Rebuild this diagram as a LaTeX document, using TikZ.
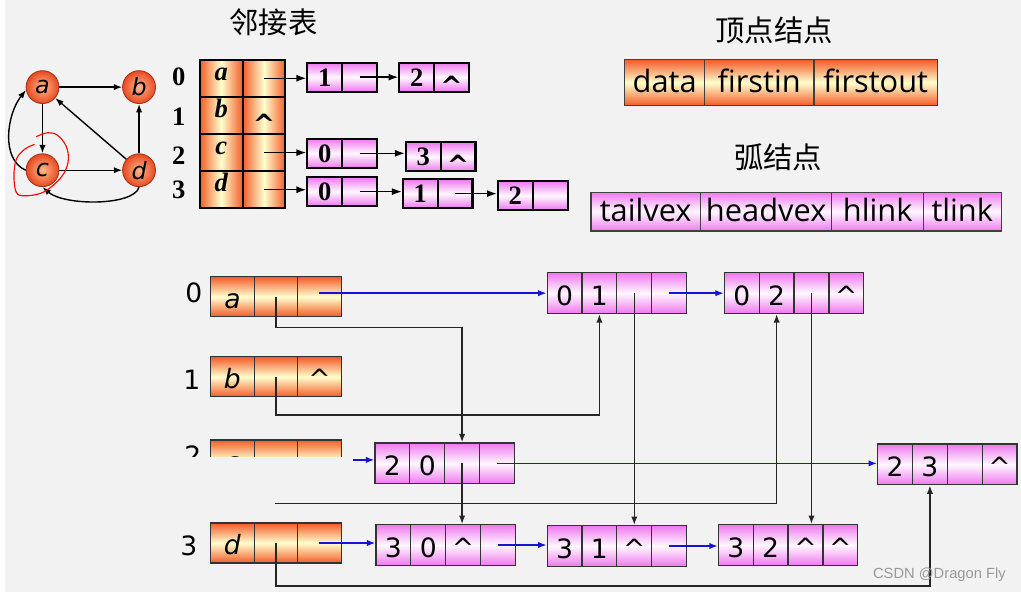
\documentclass[tikz,border=0pt]{standalone}
\usepackage{fontspec}
\setmainfont{Liberation Serif}
\newfontfamily\dejavu{DejaVu Sans}
\newfontfamily\opensans{Open Sans}
\newfontfamily\cjk{Noto Sans CJK SC}
\newfontfamily\wmfont{Liberation Sans}
\usetikzlibrary{arrows.meta}
\definecolor{bg}{RGB}{242,242,242}
\definecolor{vred}{RGB}{243,92,42}
\definecolor{vpale}{RGB}{255,255,205}
\definecolor{emag}{RGB}{238,120,238}
\definecolor{epale}{RGB}{255,248,255}
\definecolor{ballin}{RGB}{255,185,140}
\definecolor{ballout}{RGB}{232,72,32}
\definecolor{link}{RGB}{20,20,210}
\newcommand{\nilA}{{\dejavu\fontsize{19pt}{19pt}\selectfont\raisebox{-6.5pt}{\textasciicircum}}}
\tikzset{
  ball/.style={circle,draw=ballout!70!black,line width=0.6pt,inner sep=0pt,minimum size=0.825cm,
    inner color=ballin,outer color=ballout,font=\dejavu\itshape\fontsize{17pt}{17pt}\selectfont},
  tcell/.style={draw,line width=1.5pt,inner sep=0pt,minimum width=1.075cm,minimum height=0.9325cm,
    left color=vred,right color=vred,middle color=vpale,
    font=\bfseries\itshape\fontsize{19pt}{19pt}\selectfont,text height=3pt,text depth=0pt},
  acell/.style={draw,line width=1.5pt,inner sep=0pt,minimum width=0.875cm,minimum height=0.725cm,
    top color=emag,bottom color=emag,middle color=epale,
    font=\bfseries\fontsize{19pt}{19pt}\selectfont,text height=13pt,text depth=0pt},
  idx/.style={inner sep=0pt,font=\bfseries\fontsize{19pt}{19pt}\selectfont},
  oidx/.style={inner sep=0pt,font=\dejavu\fontsize{19pt}{19pt}\selectfont},
  title/.style={inner sep=0pt,font=\cjk\fontsize{21pt}{21pt}\selectfont},
  lvert/.style={draw=black!75,line width=0.8pt,inner sep=0pt,minimum height=1.15cm,
    top color=vred,bottom color=vred,middle color=vpale,
    font=\opensans\fontsize{22pt}{22pt}\selectfont,text height=14pt,text depth=0pt},
  larc/.style={draw=black!75,line width=0.8pt,inner sep=0pt,minimum height=0.975cm,
    top color=emag,bottom color=emag,middle color=epale,
    font=\opensans\fontsize{22pt}{22pt}\selectfont,text height=14pt,text depth=0pt},
  vcell/.style={draw=black!80,line width=0.9pt,inner sep=0pt,minimum width=1.092cm,minimum height=1cm,
    top color=vred,bottom color=vred,middle color=vpale,
    font=\dejavu\fontsize{19pt}{19pt}\selectfont,text height=17pt,text depth=0pt},
  ecell/.style={draw=black!80,line width=0.9pt,inner sep=0pt,minimum width=0.875cm,minimum height=1.025cm,
    top color=emag,bottom color=emag,middle color=epale,
    font=\dejavu\fontsize{19pt}{19pt}\selectfont,text height=18pt,text depth=0pt},
  adjarrow/.style={->,>={Latex[length=7pt,width=5pt]}},
  hl/.style={->,draw=black!85},
  tl/.style={->,draw=link,fill=link}
}
\begin{document}
\begin{tikzpicture}[x=0.025cm,y=-0.025cm,>={Latex[length=6pt,width=4.5pt]},line width=1pt]
\fill[bg] (0,0) rectangle (1021,595);

% the graph
\node[ball] (a) at (38,87.5) {a};
\node[ball] (b) at (135,87.5) {b};
\node[ball] (c) at (38,171) {c};
\node[ball] (d) at (135,171) {d};
\draw[->] (a) -- (b);
\draw[->] (a) -- (c);
\draw[->] (d) -- (a);
\draw[->] (d) -- (b);
\draw[->] (c) -- (d);
\draw[->] (c.west) .. controls (-4,160) and (2,115) .. (a.190);
\draw[->] (d.south) .. controls (130,207) and (60,207) .. (c.south);
\draw[red,line width=0.8pt] plot[smooth,tension=0.6] coordinates {(31.7,137.3) (43.3,133.3) (53.3,136)
  (61.7,146.7) (64,160) (60,173.3) (50,185) (36.7,194) (20,196.7) (11.7,193.3) (9.3,176.7)
  (11.7,160) (20,150) (30,145)};

% adjacency list
\node[title] (adjt) at (270,22) {邻接表};
\node[idx] (t0) at (175,77.5) {0};
\node[idx] (t1) at (175,117.5) {1};
\node[idx] (t2) at (175,156) {2};
\node[idx] (t3) at (175,191) {3};
\node[tcell] (t0a) at (217.5,78.6) {a};
\node[tcell] (t0b) at (260.5,78.6) {};
\node[tcell] (t1a) at (217.5,116) {b};
\node[tcell,text height=13pt] (t1b) at (260.5,116) {\nilA};
\node[tcell] (t2a) at (217.5,153.3) {c};
\node[tcell] (t2b) at (260.5,153.3) {};
\node[tcell] (t3a) at (217.5,190.6) {d};
\node[tcell] (t3b) at (260.5,190.6) {};
\node[acell] (r0a) at (321.5,77.5) {1};
\node[acell] (r0b) at (356.5,77.5) {};
\node[acell] (r0c) at (414,77.5) {2};
\node[acell] (r0d) at (449,77.5) {\nilA};
\node[acell] (r2a) at (321.5,154) {0};
\node[acell] (r2b) at (356.5,154) {};
\node[acell] (r2c) at (420.5,157.5) {3};
\node[acell] (r2d) at (455.5,157.5) {\nilA};
\node[acell] (r3a) at (321.5,192.5) {0};
\node[acell] (r3b) at (356.5,192.5) {};
\node[acell] (r3c) at (417.5,194.5) {1};
\node[acell] (r3d) at (452.5,194.5) {};
\node[acell] (r3e) at (513,196.5) {2};
\node[acell] (r3f) at (548.5,196.5) {};
\draw[adjarrow] (t0b.center) -- (t0b.center -| r0a.west);
\draw[adjarrow] (r0b.center) -- (r0b.center -| r0c.west);
\draw[adjarrow] (t2b.center) -- (t2b.center -| r2a.west);
\draw[adjarrow] (r2b.center) -- (r2b.center -| r2c.west);
\draw[adjarrow] (t3b.center) -- (t3b.center -| r3a.west);
\draw[adjarrow] (r3b.center) -- (r3b.center -| r3c.west);
\draw[adjarrow] (r3d.center) -- (r3d.center -| r3e.west);

% node layouts
\node[title] (vtit) at (773,30) {顶点结点};
\node[lvert,minimum width=2cm] (ldata) at (663,83) {data};
\node[lvert,minimum width=2.75cm] (lfin) at (758,83) {firstin};
\node[lvert,minimum width=3.1cm] (lfout) at (875,83) {firstout};
\node[title] (atit) at (777,157.5) {弧结点};
\node[larc,minimum width=2.75cm] (ltail) at (644,212.5) {tailvex};
\node[larc,minimum width=3.3cm] (lhead) at (765,212.5) {headvex};
\node[larc,minimum width=2.3cm] (lhl) at (877,212.5) {hlink};
\node[larc,minimum width=1.95cm] (ltl) at (962,212.5) {tlink};

% orthogonal list
\node[oidx] (o0) at (190,294) {0};
\node[oidx] (o1) at (188,382) {1};
\node[oidx] (o2) at (189,458) {2};
\node[oidx] (o3) at (185,548) {3};
\node[vcell] (v0a) at (228.8,298) {\itshape a};
\node[vcell] (v0b) at (272.5,298) {};
\node[vcell] (v0c) at (316.2,298) {};
\node[vcell] (v1a) at (228.8,378.5) {\itshape b};
\node[vcell] (v1b) at (272.5,378.5) {};
\node[vcell] (v1c) at (316.2,378.5) {\textasciicircum};
\node[vcell] (v2a) at (228.8,462) {\itshape c};
\node[vcell] (v2b) at (272.5,462) {};
\node[vcell] (v2c) at (316.2,462) {};
\node[vcell] (v3a) at (228.8,545.5) {\itshape d};
\node[vcell] (v3b) at (272.5,545.5) {};
\node[vcell] (v3c) at (316.2,545.5) {};

\node[ecell] (e01a) at (562.5,294.5) {0};
\node[ecell] (e01b) at (597.5,294.5) {1};
\node[ecell] (e01c) at (632.5,294.5) {};
\node[ecell] (e01d) at (667.5,294.5) {};
\node[ecell] (e02a) at (740.5,294.5) {0};
\node[ecell] (e02b) at (775.5,294.5) {2};
\node[ecell] (e02c) at (810.5,294.5) {};
\node[ecell] (e02d) at (845.5,294.5) {\textasciicircum};
\node[ecell] (e20a) at (389.5,465.5) {2};
\node[ecell] (e20b) at (424.5,465.5) {0};
\node[ecell] (e20c) at (459.5,465.5) {};
\node[ecell] (e20d) at (494.5,465.5) {};
\node[ecell] (e23a) at (894.5,466.5) {2};
\node[ecell] (e23b) at (929.5,466.5) {3};
\node[ecell] (e23c) at (964.5,466.5) {};
\node[ecell] (e23d) at (999.5,466.5) {\textasciicircum};
\node[ecell] (e30a) at (390.5,547.5) {3};
\node[ecell] (e30b) at (425.5,547.5) {0};
\node[ecell] (e30c) at (460.5,547.5) {\textasciicircum};
\node[ecell] (e30d) at (495.5,547.5) {};
\node[ecell] (e31a) at (562.5,548.5) {3};
\node[ecell] (e31b) at (597.5,548.5) {1};
\node[ecell] (e31c) at (632.5,548.5) {\textasciicircum};
\node[ecell] (e31d) at (667.5,548.5) {};
\node[ecell] (e32a) at (734.5,547.5) {3};
\node[ecell] (e32b) at (769.5,547.5) {2};
\node[ecell] (e32c) at (804.5,547.5) {\textasciicircum};
\node[ecell] (e32d) at (839.5,547.5) {\textasciicircum};

% tail links
\draw[tl] (e01a.west -| v0c.center) -- (e01a.west);
\draw[tl] (e01d.center) -- (e01d.center -| e02a.west);
\draw[tl] (v2c.center) -- (v2c.center -| e20a.west);
\draw[tl] (e20d.center) -- (e20d.center -| e23a.west);
\draw[tl] (v3c.center) -- (v3c.center -| e30a.west);
\draw[tl] (e30d.center) -- (e30d.center -| e31a.west);
\draw[tl] (e31d.center) -- (e31d.center -| e32a.west);

% head links
\draw[hl] (v0b.center) -- ++(0,31) -| (e20c.north);
\draw[hl] (v1b.center) -- ++(0,38.5) -| (e01b.south);
\draw[hl] (v2b.center) -- ++(0,44) -| (e02b.south);
\draw[hl] (v3b.center) -- ++(0,43) -| (e23b.south);
\draw[hl] (e01c.center) -- (e01c.center |- e31c.north);
\draw[hl] (e02c.center) -- (e02c.center |- e32c.north);
\draw[hl] (e20c.center) -- (e20c.center |- e30c.north);

% the covered strip of row 2
\fill[bg] (172,459) rectangle (350,505.2);

\node[font=\wmfont\fontsize{10.5pt}{10.5pt}\selectfont,text=black!40,inner sep=0pt] (wm) at (939,577) {CSDN @Dragon Fly};
\end{tikzpicture}
\end{document}
